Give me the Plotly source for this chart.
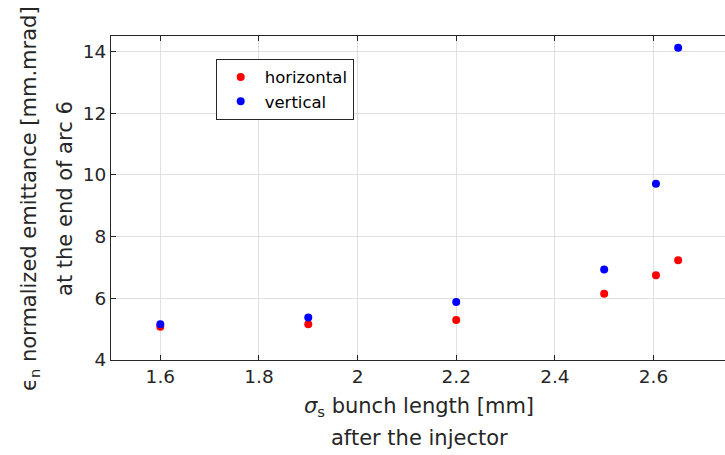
import plotly.graph_objects as go

bunch_length = [1.6, 1.9, 2.2, 2.5, 2.605, 2.65]
horizontal = [5.08, 5.16, 5.30, 6.15, 6.75, 7.23]
vertical = [5.16, 5.38, 5.88, 6.93, 9.71, 14.12]
x_ticks = [1.6, 1.8, 2.0, 2.2, 2.4, 2.6]
x_tick_labels = ["1.6", "1.8", "2", "2.2", "2.4", "2.6"]
y_ticks = [4, 6, 8, 10, 12, 14]

FONT = "DejaVu Sans"
AX = "#262626"

fig = go.Figure()
fig.add_trace(go.Scatter(x=bunch_length, y=horizontal, mode="markers", name="horizontal",
                         marker=dict(color="#ff0000", size=8)))
fig.add_trace(go.Scatter(x=bunch_length, y=vertical, mode="markers", name="vertical",
                         marker=dict(color="#0000ff", size=8)))

fig.update_layout(
    width=725, height=455,
    margin=dict(l=111, r=0, t=36, b=95),
    paper_bgcolor="white", plot_bgcolor="white",
    font=dict(family=FONT, size=18, color=AX),
    legend=dict(x=0.1705, y=0.93, xanchor="left", yanchor="top",
                bordercolor=AX, borderwidth=1, bgcolor="white",
                itemwidth=38,
                font=dict(size=16.5, color="#000000"), tracegroupgap=0),
    xaxis=dict(range=[1.5, 2.745], tickvals=x_ticks, ticktext=x_tick_labels,
               showgrid=True, gridcolor="#e0e0e0", zeroline=False,
               showline=True, linecolor=AX, linewidth=1, mirror="ticks",
               ticks="inside", ticklen=5, tickcolor=AX,
               tickfont=dict(size=18.5, color=AX)),
    yaxis=dict(range=[4, 14.5], tickvals=y_ticks,
               showgrid=True, gridcolor="#e0e0e0", zeroline=False,
               showline=True, linecolor=AX, linewidth=1,
               ticks="inside", ticklen=5, tickcolor=AX,
               tickfont=dict(size=18.5, color=AX)),
    annotations=[
        dict(text="<i>σ</i><sub>s</sub> bunch length [mm]", x=0.502, y=-0.145,
             xref="paper", yref="paper", xanchor="center", yanchor="middle",
             showarrow=False, font=dict(size=21, color=AX)),
        dict(text="after the injector", x=0.502, y=-0.241,
             xref="paper", yref="paper", xanchor="center", yanchor="middle",
             showarrow=False, font=dict(size=21, color=AX)),
        dict(text="ϵ<sub>n</sub> normalized emittance [mm.mrad]", x=-0.132, y=0.5,
             xref="paper", yref="paper", xanchor="center", yanchor="middle",
             textangle=-90, showarrow=False, font=dict(size=21, color=AX)),
        dict(text="at the end of arc 6", x=-0.075, y=0.5,
             xref="paper", yref="paper", xanchor="center", yanchor="middle",
             textangle=-90, showarrow=False, font=dict(size=21, color=AX)),
    ],
)

fig.write_html("out.html")
